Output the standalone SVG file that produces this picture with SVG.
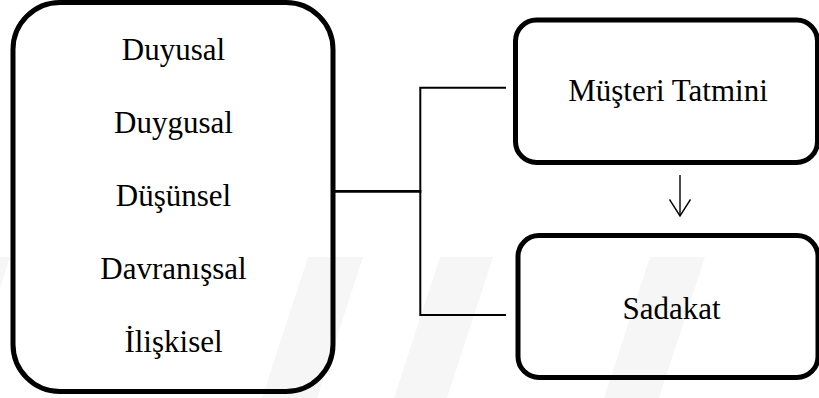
<svg xmlns="http://www.w3.org/2000/svg" width="819" height="398" viewBox="0 0 819 398">
  <style>
    .box { fill: none; stroke: #000; stroke-width: 5; }
    .label { font-size: 31px; fill: #000; text-anchor: middle; }
    .wire { fill: none; stroke: #000; stroke-linecap: square; }
    .mark { fill: #f6f6f6; }
  </style>
  <defs>
    <marker id="openArrow" viewBox="0 0 18 22" refX="17" refY="11" markerWidth="18" markerHeight="22" markerUnits="userSpaceOnUse" orient="auto">
      <path d="M0.5,0.5 L17,11 L0.5,21.5" fill="none" stroke="#000" stroke-width="1.4"/>
    </marker>
  </defs>
  <rect width="819" height="398" fill="#fff"/>

  <!-- faint background bands -->
  <g id="background">
    <polygon class="mark" points="0,257 10,257 0,288"/>
    <polygon class="mark" points="308,257 363,257 317,398 262,398"/>
    <polygon class="mark" points="440,257 493,257 447,398 394,398"/>
    <polygon class="mark" points="650,257 705,257 659,398 604,398"/>
  </g>

  <!-- connectors -->
  <g id="connectors">
    <path class="wire" d="M333,191.3 H420" stroke-width="2.7"/>
    <path class="wire" d="M505,87.7 H420.3 V315 H505" stroke-width="2"/>
    <line x1="680" y1="175" x2="680" y2="216" stroke="#000" stroke-width="1.4" marker-end="url(#openArrow)"/>
  </g>

  <g font-family="Liberation Serif, Times New Roman, serif">
    <!-- dimensions box -->
    <g id="dimensions">
      <rect class="box" x="13" y="2.5" width="320" height="389" rx="47" ry="47"/>
      <text class="label" x="173.5" y="59.5">Duyusal</text>
      <text class="label" x="173.5" y="132.5">Duygusal</text>
      <text class="label" x="173.5" y="205.5">Düşünsel</text>
      <text class="label" x="173.5" y="278.5">Davranışsal</text>
      <text class="label" x="173.5" y="351.5">İlişkisel</text>
    </g>

    <!-- satisfaction box -->
    <g id="satisfaction">
      <rect class="box" x="515.5" y="20" width="302" height="142.5" rx="21" ry="21"/>
      <text class="label" x="668" y="101">Müşteri Tatmini</text>
    </g>

    <!-- loyalty box -->
    <g id="loyalty">
      <rect class="box" x="518" y="235.5" width="300" height="142" rx="21" ry="21"/>
      <text class="label" x="671.5" y="318.5">Sadakat</text>
    </g>
  </g>
</svg>
